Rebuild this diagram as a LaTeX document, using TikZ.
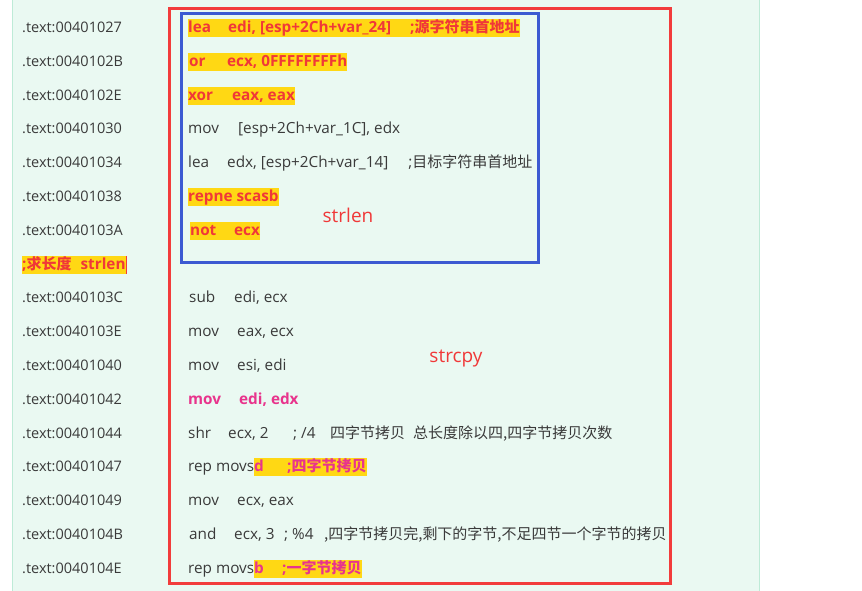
\documentclass[tikz,border=0pt]{standalone}
\usepackage{fontspec}
\setmainfont{Open Sans}
\newfontfamily\cjk[Scale=0.98]{Noto Sans CJK SC}
\usepackage{xcolor}
\definecolor{panel}{RGB}{234,249,242}
\definecolor{panelline}{RGB}{190,235,215}
\definecolor{hly}{RGB}{255,216,20}
\definecolor{hlred}{RGB}{240,56,56}
\definecolor{hlpink}{RGB}{232,52,140}
\definecolor{asm}{RGB}{58,58,58}
\definecolor{boxred}{RGB}{242,60,60}
\definecolor{boxblue}{RGB}{60,90,210}
\newcommand{\hlt}[1]{{\setlength{\fboxsep}{0pt}\colorbox{hly}{\rule[-4.5pt]{0pt}{18pt}#1}}}
\newcommand{\op}[2]{\makebox[#1][l]{#2}}
\tikzset{addr/.style={anchor=base west,inner sep=0pt,text=asm,font=\fontsize{14.5}{17}\selectfont},
code/.style={addr,font=\fontsize{15.3}{18}\selectfont},hot/.style={addr,text=hlred,font=\fontsize{15.3}{18}\selectfont\bfseries},
pink/.style={addr,text=hlpink,font=\fontsize{15.3}{18}\selectfont\bfseries},
tag/.style={inner sep=0pt,text=hlred,font=\fontsize{19}{22}\selectfont}}

\begin{document}
\begin{tikzpicture}[x=1pt,y=-1pt]
\useasboundingbox (0,0) rectangle (862,591);
\fill[panel] (12.5,0) rectangle (759.5,591);
\draw[panelline] (12.5,0) -- (12.5,591) (759.5,0) -- (759.5,591);

% addresses
\node[addr] (a1) at (22,32.5) {.text:00401027};
\node[addr] (a2) at (22,66.3) {.text:0040102B};
\node[addr] (a3) at (22,100.1) {.text:0040102E};
\node[addr] (a4) at (22,133.9) {.text:00401030};
\node[addr] (a5) at (22,167.7) {.text:00401034};
\node[addr] (a6) at (22,201.5) {.text:00401038};
\node[addr] (a7) at (22,235.3) {.text:0040103A};
\node[hot] (a8) at (22,269.1) {\hlt{;{\cjk 求长度}\hspace{9pt}strlen}\textcolor{boxred}{\rule[-4.5pt]{1pt}{18pt}}};
\node[addr] (a9) at (22,302.9) {.text:0040103C};
\node[addr] (a10) at (22,336.7) {.text:0040103E};
\node[addr] (a11) at (22,370.5) {.text:00401040};
\node[addr] (a12) at (22,404.3) {.text:00401042};
\node[addr] (a13) at (22,438.1) {.text:00401044};
\node[addr] (a14) at (22,471.9) {.text:00401047};
\node[addr] (a15) at (22,505.7) {.text:00401049};
\node[addr] (a16) at (22,539.5) {.text:0040104B};
\node[addr] (a17) at (22,573.3) {.text:0040104E};

% strlen part
\node[hot] (i1) at (188,32.5) {\hlt{\op{40pt}{lea}edi, [esp+2Ch+var\_24]\hspace{19pt};{\cjk 源字符串首地址}}};
\node[hot] (i2) at (188,66.3) {\hlt{\hspace{1pt}\op{38pt}{or}ecx, 0FFFFFFFFh}};
\node[hot] (i3) at (188,100.1) {\hlt{\op{44pt}{xor}eax, eax}};
\node[code] (i4) at (188,133.9) {\op{50pt}{mov}[esp+2Ch+var\_1C], edx};
\node[code] (i5) at (188,167.7) {\op{39pt}{lea}edx, [esp+2Ch+var\_14]\hspace{20pt};{\cjk 目标字符串首地址}};
\node[hot] (i6) at (188,201.5) {\hlt{repne scasb}};
\node[hot] (i7) at (190,235.3) {\hlt{\op{44pt}{not}ecx}};

% strcpy part
\node[code] (i9) at (189,302.9) {\op{45pt}{sub}edi, ecx};
\node[code] (i10) at (188,336.7) {\op{49pt}{mov}eax, ecx};
\node[code] (i11) at (188,370.5) {\op{49pt}{mov}esi, edi};
\node[pink] (i12) at (188,404.3) {\op{51pt}{mov}edi, edx};
\node[code] (i13) at (188,438.1) {\op{40pt}{shr}\op{65pt}{ecx, 2}\op{37pt}{; /4}\op{83pt}{\cjk 四字节拷贝}{\cjk 总长度除以四,四字节拷贝次数}};
\node[code] (i14) at (188,471.9) {rep movs\hlt{\textcolor{hlpink}{\bfseries\op{33pt}{d};{\cjk 四字节拷贝}}}};
\node[code] (i15) at (188,505.7) {\op{49pt}{mov}ecx, eax};
\node[code] (i16) at (189,539.5) {\op{45pt}{and}\op{50pt}{ecx, 3}\op{40pt}{; \%4}{\cjk ,四字节拷贝完,剩下的字节,不足四节一个字节的拷贝}};
\node[code] (i17) at (188,573.3) {rep movs\hlt{\textcolor{hlpink}{\bfseries\op{28pt}{b};{\cjk 一字节拷贝}}}};

\node[tag] (lentag) at (348,215) {strlen};
\node[tag] (cpytag) at (456,359) {strcpy};

\draw[boxred,line width=3pt] (169,8.5) rectangle (670,583);
\draw[boxblue,line width=3pt] (181,13.5) rectangle (538,262);
\end{tikzpicture}
\end{document}
